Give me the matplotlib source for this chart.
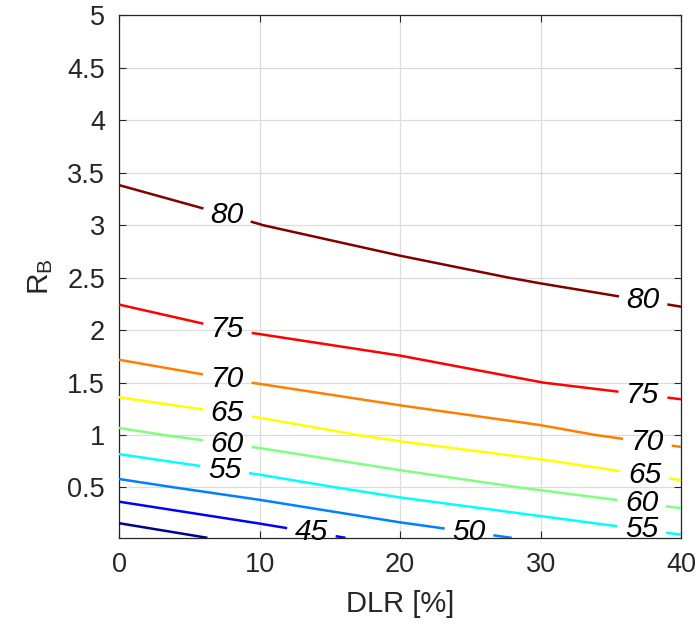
import matplotlib
matplotlib.use('Agg')
import matplotlib.pyplot as plt
import numpy as np

plt.rcParams['font.family'] = ['Liberation Sans', 'DejaVu Sans']
plt.rcParams['mathtext.default'] = 'regular'

# grid of the map: DLR [%] along x, R_B along y
dlr = [0, 10, 20, 30, 40]
rb = [0.02, 0.5, 1.0, 1.5, 2.0, 2.5, 3.0, 3.5, 4.0, 4.5, 5.0]

# value at each grid node, one list per DLR column (bottom to top)
z_dlr0 = [36.6, 48.3, 58.85, 67.4, 73.4, 76.7, 78.4, 80.5, 81.6, 82.6, 83.5]
z_dlr10 = [42.0, 52.6, 62.45, 70.2, 75.4, 77.6, 79.97, 81.5, 82.5, 83.3, 84.0]
z_dlr20 = [46.9, 57.0, 66.1, 73.0, 76.9, 79.0, 81.4, 82.5, 83.4, 84.2, 84.8]
z_dlr30 = [50.8, 60.54, 68.85, 74.98, 77.6, 80.3, 82.3, 83.5, 84.3, 84.6, 84.9]
z_dlr40 = [54.4, 63.9, 71.8, 76.5, 78.8, 81.5, 82.8, 83.8, 84.4, 84.7, 84.9]

levels = [40, 45, 50, 55, 60, 65, 70, 75, 80]
# where the labels sit (DLR, R_B); the 40 line carries none
label_pos = [(7.7, 3.10), (37.3, 2.28),
             (7.7, 2.00), (37.3, 1.40),
             (7.7, 1.53), (37.6, 0.93),
             (7.7, 1.20), (37.4, 0.61),
             (7.7, 0.91), (37.2, 0.35),
             (7.5, 0.66), (37.2, 0.10),
             (24.9, 0.07), (13.7, 0.08)]

line_colors = ['#00008f', '#0000ff', '#0080ff', '#00ffff', '#80ff80',
               '#ffff00', '#ff8000', '#ff0000', '#800000']

Z = np.array([z_dlr0, z_dlr10, z_dlr20, z_dlr30, z_dlr40]).T
X, Y = np.meshgrid(dlr, rb)

fig = plt.figure(figsize=(7, 6.32), dpi=100)
ax = fig.add_axes([0.17, 0.149, 0.803, 0.827])

cs = ax.contour(X, Y, Z, levels=levels, colors=line_colors, linewidths=1.8, zorder=3)
texts = ax.clabel(cs, inline=True, inline_spacing=8, fmt='%d',
                  fontsize=21.5, colors='k', manual=label_pos)
for t in texts:
    t.set_rotation(0)
    t.set_fontstyle('italic')
    t.set_clip_on(False)

ax.set_xlim(0, 40)
ax.set_ylim(0.02, 5)
ax.set_xticks([0, 10, 20, 30, 40])
ax.set_yticks([0.5, 1, 1.5, 2, 2.5, 3, 3.5, 4, 4.5, 5])
ax.set_yticklabels(['0.5', '1', '1.5', '2', '2.5', '3', '3.5', '4', '4.5', '5'])
ax.grid(True, color='#dcdcdc', linewidth=0.9, zorder=0)
ax.set_axisbelow(True)

ax.tick_params(direction='in', length=5, width=0.8, colors='#262626',
               labelsize=19.5, top=True, right=True, pad=10)
for s in ax.spines.values():
    s.set_color('#262626')
    s.set_linewidth(0.9)

ax.set_xlabel('DLR [%]', fontsize=21, color='#262626', labelpad=9)
ax.set_ylabel('R$_{B}$', fontsize=21.5, color='#262626', labelpad=9)

fig.savefig('out.png', dpi=100)
